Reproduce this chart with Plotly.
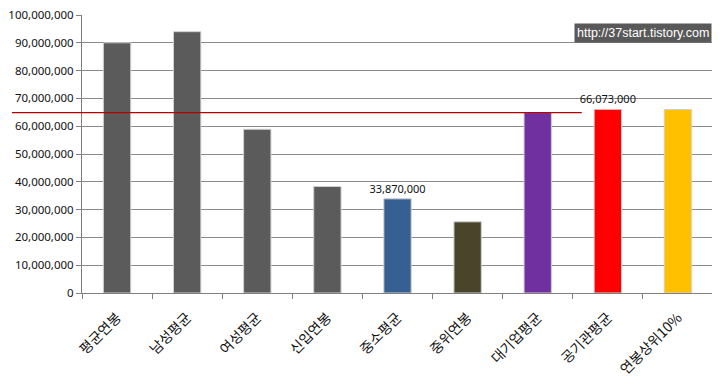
import plotly.graph_objects as go

categories = ["평균연봉", "남성평균", "여성평균", "신입연봉", "중소평균", "중위연봉", "대기업평균", "공기관평균", "연봉상위10%"]
values = [90000000, 94000000, 58900000, 38300000, 33870000, 25600000, 64900000, 66073000, 66000000]
bar_colors = ["#5b5b5b", "#5b5b5b", "#5b5b5b", "#5b5b5b", "#376092", "#4a452a", "#7030a0", "#ff0000", "#ffc000"]
labeled = ["중소평균", "공기관평균"]
reference_value = 64900000
y_ticks = list(range(0, 100000001, 10000000))
watermark = "http://37start.tistory.com"

texts = [f"{v:,}" if c in labeled else "" for c, v in zip(categories, values)]

fig = go.Figure()
fig.add_trace(go.Bar(
    x=categories, y=values,
    marker=dict(color=bar_colors, line=dict(color="#d0d0d0", width=1)),
    width=0.39,
    text=texts, textposition="outside", cliponaxis=False, constraintext="none",
    textfont=dict(family="Noto Sans, DejaVu Sans", size=11, color="#111"),
    hoverinfo="skip",
))

fig.add_shape(type="line", xref="paper", yref="y",
              x0=-0.111, x1=0.792, y0=reference_value, y1=reference_value,
              line=dict(color="#b80000", width=1.2), layer="above")

fig.add_annotation(text=watermark, xref="paper", yref="paper", x=0.998, y=0.935,
                   xanchor="right", yanchor="middle", showarrow=False,
                   font=dict(family="Liberation Sans, Arial", size=12.5, color="white"),
                   bgcolor="#595959", borderpad=2)

fig.update_layout(
    width=720, height=377,
    margin=dict(l=74, r=15, t=7, b=92, autoexpand=False),
    paper_bgcolor="white", plot_bgcolor="white",
    showlegend=False,
    bargap=0.61,
    xaxis=dict(
        tickangle=-45, tickson="boundaries", ticks="outside", ticklen=5,
        tickcolor="#808080", showline=True, linecolor="#808080",
        tickfont=dict(family="Noto Sans CJK KR", size=14, color="#111"),
        ticklabelstandoff=10,
        showgrid=False, automargin=False,
    ),
    yaxis=dict(
        range=[0, 100000000], tickvals=y_ticks, tickformat=",d",
        ticks="outside", ticklen=5, tickcolor="#808080",
        showline=True, linecolor="#808080",
        gridcolor="#8a8a8a", gridwidth=1,
        tickfont=dict(family="Noto Sans, DejaVu Sans", size=11.5, color="#111"),
        ticklabeloverflow="allow",
        zeroline=False, automargin=False,
    ),
)

fig.write_html("out.html")
